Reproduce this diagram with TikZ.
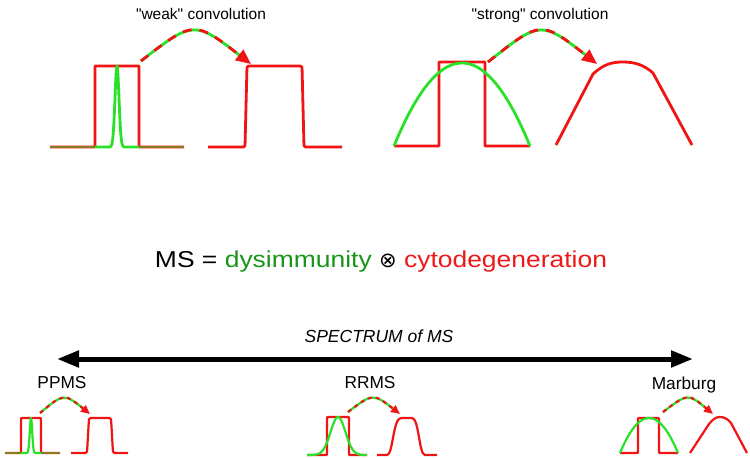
\documentclass[tikz,border=0pt]{standalone}
\usepackage{fontspec}
\setmainfont{Liberation Sans}
\newfontfamily\widefont{Liberation Sans}[FakeStretch=1.15]
\newfontfamily\symfont{DejaVu Sans}
\newcommand\sq{\XeTeXglyph\XeTeXcharglyph34\relax}
\usetikzlibrary{arrows.meta}
\definecolor{cred}{RGB}{240,20,20}
\definecolor{cgreen}{RGB}{40,225,40}
\definecolor{tgreen}{RGB}{25,150,25}
\definecolor{tred}{RGB}{235,25,25}
\begin{document}
\begin{tikzpicture}[x=1pt,y=-1pt,
  redbig/.style={draw=cred,line width=2.8pt,line join=round},
  greenbig/.style={draw=cgreen,line width=2.8pt,line join=round},
  redsmall/.style={draw=cred,line width=2.2pt,line join=round},
  greensmall/.style={draw=cgreen,line width=2.2pt,line join=round},
  bigarrowg/.style={draw=cgreen,line width=2.8pt,shorten >=10pt},
  bigarrowr/.style={draw=cred,line width=2.8pt,dash pattern=on 9pt off 8pt,-{Triangle[length=15pt,width=13pt]}},
  smallarrowg/.style={draw=cgreen,line width=2.2pt,shorten >=6pt},
  smallarrowr/.style={draw=cred,line width=2.2pt,dash pattern=on 4pt off 4pt,-{Triangle[length=9pt,width=8pt]}},
  titletext/.style={anchor=base,font=\fontsize{15.5}{18}\selectfont},
  labeltext/.style={anchor=base,font=\fontsize{17.3}{20}\selectfont},
]
\useasboundingbox (0,0) rectangle (750,458);

% ---------- titles ----------
\node[titletext] (tweak) at (201,19) {\sq weak\sq\ convolution};
\node[titletext] (tstrong) at (540,19) {\sq strong\sq\ convolution};

% ---------- weak convolution ----------
\draw[redbig,rounded corners=0.6pt] (50,147) -- (95,147) -- (95,66) -- (139,66) -- (139,147) -- (184,147);
\draw[greenbig] (95,147) -- (109,147) -- plot[domain=109:125,samples=41] (\x,{147-81*exp(-((\x-117)*(\x-117))/8)}) -- (139,147);
\draw[greenbig,opacity=0.5,rounded corners=0.6pt] (50,147) -- (95,147);
\draw[greenbig,opacity=0.5,rounded corners=0.6pt] (139,147) -- (184,147);
\draw[redbig,rounded corners=2pt] (208,147) -- (245,147) -- (247,66) -- (302,66) -- (304,147) -- (342,147);
\coordinate (wA) at (141,61);
\coordinate (wB) at (251,64);
\draw[bigarrowg] (wA) .. controls (194,20) .. (wB);
\draw[bigarrowr] (wA) .. controls (194,20) .. (wB);

% ---------- strong convolution ----------
\draw[redbig,rounded corners=0.6pt] (394,146) -- (439,146) -- (439,62) -- (485,62) -- (485,146) -- (530,146);
\draw[greenbig] plot[domain=394:530,samples=60] (\x,{146-83*(1-((\x-462)/68)*((\x-462)/68))});
\draw[redbig] (556,145) -- (593,74) .. controls (604,64) and (612,62) .. (623,62) .. controls (635,62) and (644,65) .. (653,73) -- (692,145);
\coordinate (sA) at (488,62);
\coordinate (sB) at (597,64);
\draw[bigarrowg] (sA) .. controls (541,20) .. (sB);
\draw[bigarrowr] (sA) .. controls (541,20) .. (sB);

% ---------- equation ----------
\node[anchor=base,font=\widefont\fontsize{23}{27}\selectfont] (eq) at (381,267)
  {MS = \textcolor{tgreen}{dysimmunity} {\symfont\fontsize{21}{24}\selectfont ⊗} \textcolor{tred}{cytodegeneration}};

% ---------- spectrum ----------
\node[anchor=base,font=\itshape\fontsize{17.5}{20}\selectfont] (spec) at (379,342) {SPECTRUM of MS};
\coordinate (spL) at (57,359);
\coordinate (spR) at (693,359);
\draw[line width=5pt,{Triangle[length=22pt,width=16pt]}-{Triangle[length=22pt,width=16pt]}] (spL) -- (spR);

\node[labeltext] (ppms) at (62,388) {PPMS};
\node[labeltext] (rrms) at (370,388) {RRMS};
\node[labeltext] (marb) at (684,389) {Marburg};

% ---------- PPMS ----------
\draw[redsmall,rounded corners=0.6pt] (5,453) -- (21,453) -- (21,418) -- (41,418) -- (41,453) -- (60,453);
\draw[greensmall] (21,453) -- (26,453) -- plot[domain=26:36,samples=31] (\x,{453-35*exp(-((\x-31)*(\x-31))/3)}) -- (41,453);
\draw[greensmall,opacity=0.5,rounded corners=0.6pt] (5,453) -- (21,453);
\draw[greensmall,opacity=0.5,rounded corners=0.6pt] (41,453) -- (60,453);
\draw[redsmall,rounded corners=1.5pt] (71,453) -- (87,453) -- (89,418) -- (111,418) -- (113,453) -- (128,453);
\coordinate (pA) at (40,413);
\coordinate (pB) at (90,414);
\draw[smallarrowg] (pA) .. controls (64,393) .. (pB);
\draw[smallarrowr] (pA) .. controls (64,393) .. (pB);

% ---------- RRMS ----------
\draw[redsmall,rounded corners=0.6pt] (307,455) -- (327,455) -- (327,417) -- (349,417) -- (349,455) -- (367,455);
\draw[greensmall] plot[domain=307:367,samples=61] (\x,{455-38*exp(-((\x-338)*(\x-338))/110)});
\draw[redsmall] (377,455) -- (387,455) .. controls (393,455) and (393,418) .. (401,418) -- (412,418) .. controls (419,418) and (419,455) .. (425,455) -- (437,455);
\coordinate (rA) at (348,412);
\coordinate (rB) at (400,414);
\draw[smallarrowg] (rA) .. controls (373,393) .. (rB);
\draw[smallarrowr] (rA) .. controls (373,393) .. (rB);

% ---------- Marburg ----------
\draw[redsmall,rounded corners=0.6pt] (620,453) -- (638,453) -- (638,418) -- (659,418) -- (659,453) -- (678,453);
\draw[greensmall] plot[domain=620:678,samples=50] (\x,{453-35*(1-((\x-649)/29)*((\x-649)/29))});
\draw[redsmall] (690,453) -- (709,424) .. controls (713,419) and (716,417) .. (720,417) .. controls (724,417) and (728,419) .. (731,423) -- (747,453);
\coordinate (mA) at (663,412);
\coordinate (mB) at (713,414);
\draw[smallarrowg] (mA) .. controls (688,393) .. (mB);
\draw[smallarrowr] (mA) .. controls (688,393) .. (mB);
\end{tikzpicture}
\end{document}
